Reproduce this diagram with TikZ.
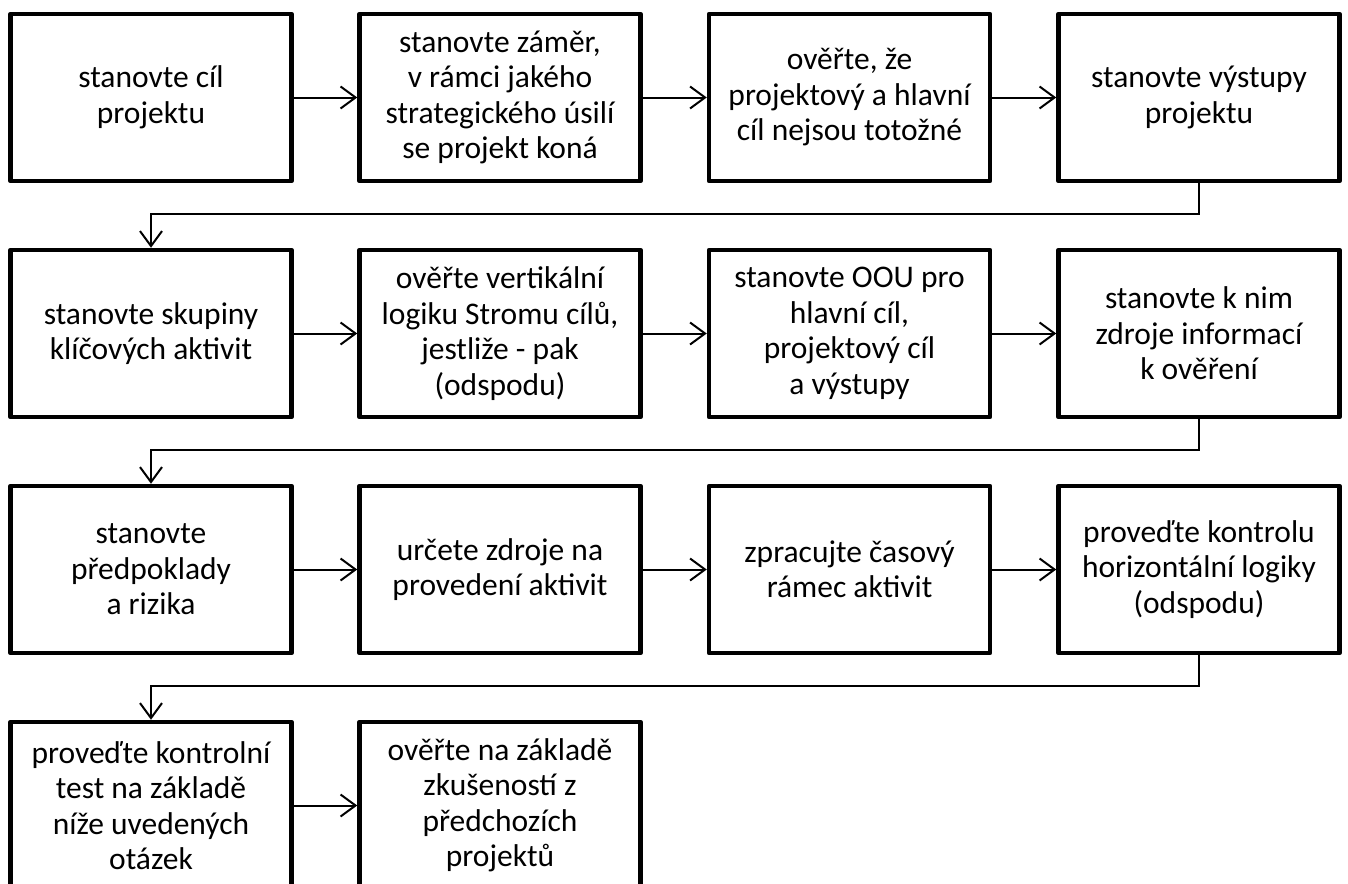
\documentclass[tikz,border=0pt]{standalone}
\usepackage{fontspec}
\setmainfont{Carlito}
\usetikzlibrary{arrows.meta}
\begin{document}
\begin{tikzpicture}[x=1pt,y=-1pt,
  box/.style={draw, line width=4.5pt, minimum width=281pt, minimum height=167pt,
    align=center, font=\fontsize{31.5}{35.5}\selectfont, inner sep=0pt, line join=round},
  conn/.style={line width=2pt, -{Straight Barb[length=15pt,width=22pt,line width=2pt]}}]
\useasboundingbox (0,0) rectangle (1348,883);
\clip (0,0) rectangle (1348,883);
\fill[white] (0,0) rectangle (1348,883);

% row 1
\node[box] (b1) at (151,97.5) {stanovte cíl\\projektu};
\node[box] (b2) at (500,97.5) {stanovte záměr,\\v rámci jakého\\strategického úsilí\\se projekt koná};
\node[box] (b3) at (849.5,97.5) {ověřte, že\\projektový a hlavní\\cíl nejsou totožné};
\node[box] (b4) at (1199,97.5) {stanovte výstupy\\projektu};
% row 2
\node[box] (b5) at (151,333.5) {stanovte skupiny\\klíčových aktivit};
\node[box] (b6) at (500,333.5) {ověřte vertikální\\logiku Stromu cílů,\\jestliže - pak\\(odspodu)};
\node[box] (b7) at (849.5,333.5) {stanovte OOU pro\\hlavní cíl,\\projektový cíl\\a výstupy};
\node[box] (b8) at (1199,333.5) {stanovte k nim\\zdroje informací\\k ověření};
% row 3
\node[box] (b9) at (151,569.5) {stanovte\\předpoklady\\a rizika};
\node[box] (b10) at (500,569.5) {určete zdroje na\\provedení aktivit};
\node[box] (b11) at (849.5,569.5) {zpracujte časový\\rámec aktivit};
\node[box] (b12) at (1199,569.5) {proveďte kontrolu\\horizontální logiky\\(odspodu)};
% row 4
\node[box] (b13) at (151,805.5) {proveďte kontrolní\\test na základě\\níže uvedených\\otázek};
\node[box] (b14) at (500,805.5) {ověřte na základě\\zkušeností z\\předchozích\\projektů};

% horizontal connectors
\draw[conn] (b1) -- (b2);
\draw[conn] (b2) -- (b3);
\draw[conn] (b3) -- (b4);
\draw[conn] (b5) -- (b6);
\draw[conn] (b6) -- (b7);
\draw[conn] (b7) -- (b8);
\draw[conn] (b9) -- (b10);
\draw[conn] (b10) -- (b11);
\draw[conn] (b11) -- (b12);
\draw[conn] (b13) -- (b14);

% row-change connectors
\draw[conn] (b4.south) -- ++(0,31) -| (b5.north);
\draw[conn] (b8.south) -- ++(0,31) -| (b9.north);
\draw[conn] (b12.south) -- ++(0,31) -| (b13.north);
\end{tikzpicture}
\end{document}
